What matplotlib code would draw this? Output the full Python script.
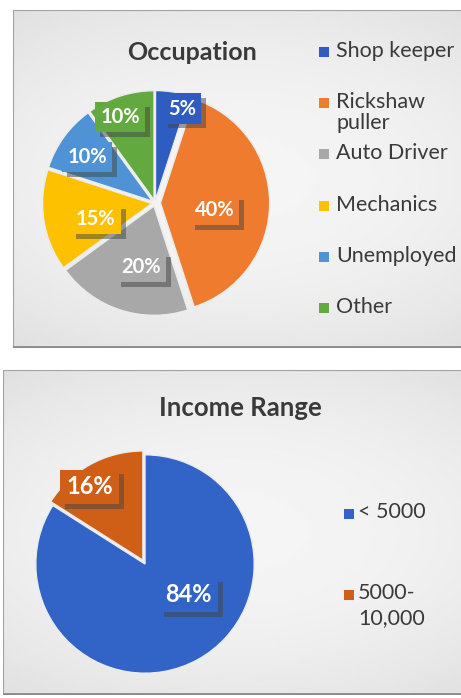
import numpy as np
import matplotlib
matplotlib.use('Agg')
import matplotlib.pyplot as plt
from matplotlib import patheffects as pe
from matplotlib.patches import Rectangle

plt.rcParams['font.family'] = ['Lato', 'DejaVu Sans']

# Data
occ_labels = ['Shop keeper', 'Rickshaw\npuller', 'Auto Driver', 'Mechanics', 'Unemployed', 'Other']
occ_values = [5, 40, 20, 15, 10, 10]
occ_colors = ['#2f5cc0', '#ef7b2e', '#a8a8a8', '#fdc100', '#4f93d6', '#62aa40']

inc_labels = ['< 5000', '5000-\n10,000']
inc_values = [84, 16]
inc_colors = ['#3263c6', '#cf5f16']

W, H = 461, 698
fig = plt.figure(figsize=(W / 100, H / 100), dpi=100)
fig.patch.set_facecolor('white')


def panel(x0, y0, x1, y1):
    # light gray card with soft gradient, pixel coords from top-left
    ax = fig.add_axes([x0 / W, 1 - y1 / H, (x1 - x0) / W, (y1 - y0) / H])
    yy, xx = np.mgrid[-1:1:120j, -1:1:160j]
    g = 0.96 - 0.05 * (xx ** 2 * 0.6 + yy ** 2)
    ax.imshow(g, cmap='gray', vmin=0, vmax=1, aspect='auto', extent=[0, 1, 0, 1])
    ax.add_patch(Rectangle((0, 0), 1, 1, fill=False, ec='#a0a0a0', lw=1.5,
                           transform=ax.transAxes))
    ax.plot([0, 1], [0.004, 0.004], color='#8a8a8a', lw=2, transform=ax.transAxes)
    ax.set_xlim(0, 1)
    ax.set_ylim(0, 1)
    ax.axis('off')
    return ax


def pie_axes(cx, cy, r):
    s = 1.3 * r
    ax = fig.add_axes([(cx - s) / W, 1 - (cy + s) / H, 2 * s / W, 2 * s / H])
    ax.set_xlim(-1.3, 1.3)
    ax.set_ylim(-1.3, 1.3)
    ax.axis('off')
    return ax


def draw_pie(ax, values, colors, explode, label_r, label_da, fontsize):
    ax.pie(values, colors=colors, startangle=90, counterclock=False,
           explode=explode, radius=1.0,
           wedgeprops=dict(edgecolor='#ececec', linewidth=1.0))
    total = float(sum(values))
    cum = 0.0
    for v, c, lr, da in zip(values, colors, label_r, label_da):
        mid = 90 - (cum + v / 2) / total * 360 - da
        cum += v
        x = lr * np.cos(np.radians(mid))
        y = lr * np.sin(np.radians(mid))
        t = ax.text(x, y, f'{v / total * 100:.0f}%', ha='center', va='center',
                    fontsize=fontsize, fontweight='bold', color='white',
                    bbox=dict(boxstyle='square,pad=0.25', fc=c, ec='none'))
        t.get_bbox_patch().set_path_effects([
            pe.SimplePatchShadow(offset=(3.5, -3.5), shadow_rgbFace='#444444', alpha=0.5),
            pe.Normal()])


# Top panel: Occupation
panel(13, 10, 470, 348)
fig.text(192 / W, 1 - 52 / H, 'Occupation', ha='center', va='center',
         fontsize=18, fontweight='bold', color='#3a3a3a')
ax1 = pie_axes(155, 203, 105)
draw_pie(ax1, occ_values, occ_colors, [0.03, 0.05, 0.03, 0.03, 0.03, 0.03],
         [0.9, 0.55, 0.6, 0.56, 0.75, 0.85],
         [7, 7, -6, -6, -2, -4], 14.5)

leg_top, leg_step = 52, 51.2
for i, (lab, c) in enumerate(zip(occ_labels, occ_colors)):
    y = leg_top + i * leg_step
    fig.patches.append(Rectangle((319 / W, 1 - (y + 5) / H), 10 / W, 10 / H,
                                 fc=c, ec='none', transform=fig.transFigure))
    fig.text(336 / W, 1 - (y - 11) / H, lab, ha='left', va='top', fontsize=15.5,
             color='#3a3a3a', linespacing=1.05)

# Bottom panel: Income Range
panel(3, 370, 470, 695)
fig.text(240 / W, 1 - 408 / H, 'Income Range', ha='center', va='center',
         fontsize=18.5, fontweight='bold', color='#3a3a3a')
ax2 = pie_axes(145, 564, 105)
draw_pie(ax2, inc_values, inc_colors, [0.0, 0.04], [0.49, 0.87], [-26, -7], 17)

for i, (lab, c) in enumerate(zip(inc_labels, inc_colors)):
    y = 514 + i * 81
    fig.patches.append(Rectangle((344 / W, 1 - (y + 5) / H), 10 / W, 10 / H,
                                 fc=c, ec='none', transform=fig.transFigure))
    fig.text(358 / W, 1 - (y - 12) / H, lab, ha='left', va='top', fontsize=15.5,
             color='#3a3a3a', linespacing=1.3)

fig.savefig('out.png', dpi=100)
